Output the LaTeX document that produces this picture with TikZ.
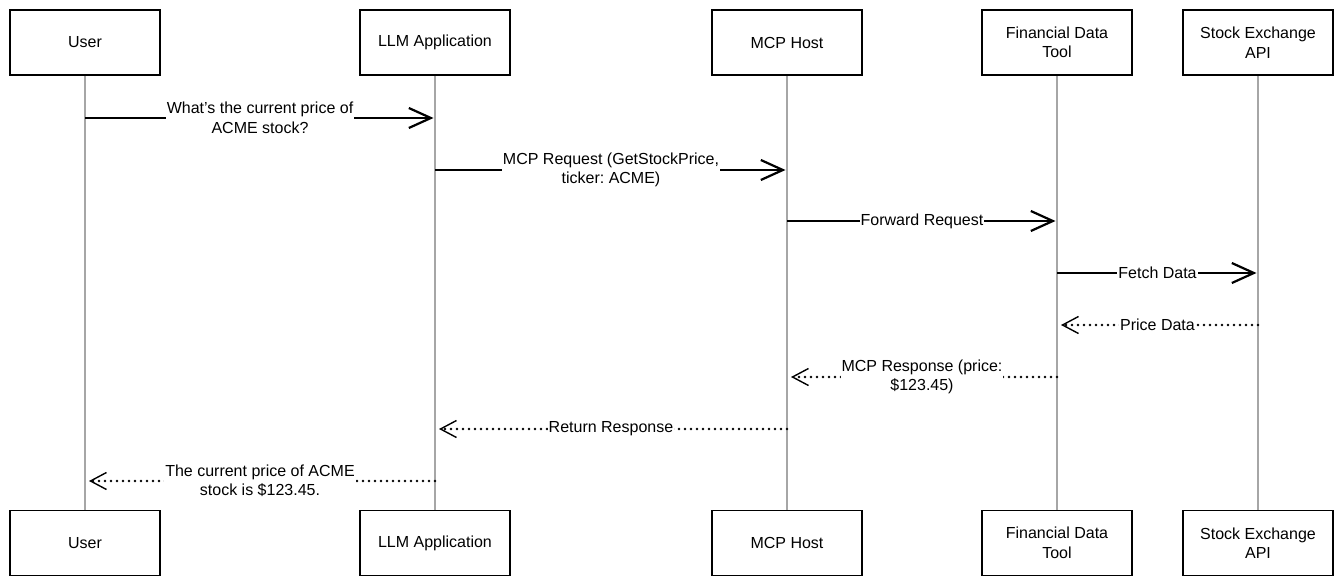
\documentclass[tikz,border=0pt]{standalone}
\usepackage{fontspec}
\setmainfont{Liberation Sans}
\usetikzlibrary{arrows.meta}
\frenchspacing

\begin{document}
\begin{tikzpicture}[x=1pt,y=-1pt,
  actor/.style={draw, line width=1.6pt, minimum width=150pt, minimum height=65pt, align=center, font=\fontsize{16}{19.5}\selectfont},
  life/.style={draw=black!35, line width=1.1pt},
  call/.style={line width=2.2pt, shorten >=1.5pt, -{Straight Barb[length=22pt,width=20pt,line width=2.2pt]}},
  reply/.style={line width=2.6pt, line cap=round, dash pattern=on 0pt off 6pt, shorten >=4pt, -{Straight Barb[length=16pt,width=17pt,line width=1.4pt]}},
  lbl/.style={fill=white, inner xsep=1pt, inner ysep=0pt, align=center, font=\fontsize{16}{19.5}\selectfont}]
\useasboundingbox (0,0) rectangle (1342,586);
% participants, top and bottom, with their lifelines
\foreach \n/\x/\t in {user/85/User, llm/435/LLM Application, host/787/MCP Host,
    tool/1057/{Financial Data\\Tool}, api/1258/{Stock Exchange\\API}} {
  \node[actor] (\n-top) at (\x,42.5) {\t};
  \node[actor] (\n-bot) at (\x,543) {\t};
  \draw[life] (\n-top) -- (\n-bot);
}
% messages
\foreach \a/\b/\y/\s/\t in {
    user/llm/118/call/{What's the current price of\\ACME stock?},
    llm/host/170/call/{MCP Request (GetStockPrice,\\ticker: ACME)},
    host/tool/221/call/{Forward Request},
    tool/api/273/call/{Fetch Data},
    api/tool/325/reply/{Price Data},
    tool/host/377/reply/{MCP Response (price:\\\$123.45)},
    host/llm/429/reply/{Return Response},
    llm/user/481/reply/{The current price of ACME\\stock is \$123.45.}} {
  \coordinate (\a-\y) at (\a-top.center |- 0,\y);
  \coordinate (\b-\y) at (\b-top.center |- 0,\y);
  \draw[\s] (\a-\y) -- node[lbl] {\t} (\b-\y);
}
\end{tikzpicture}
\end{document}
